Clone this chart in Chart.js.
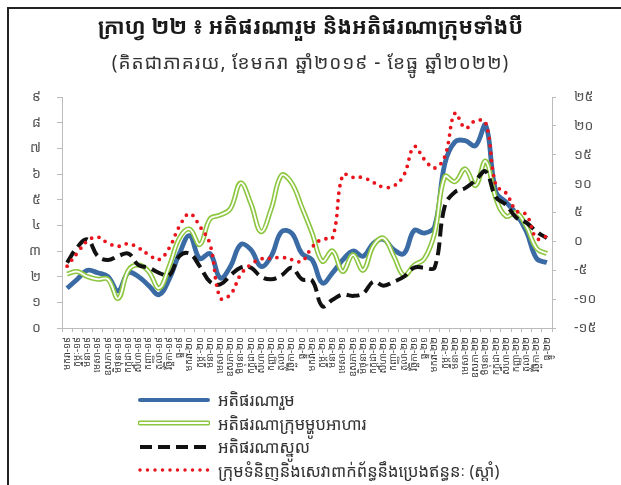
<!DOCTYPE html>
<html><head><meta charset="utf-8">
<script src="https://cdn.jsdelivr.net/npm/chart.js@4.4.1/dist/chart.umd.min.js"></script>
<style>
html,body{margin:0;padding:0;background:#fff;width:621px;height:485px;overflow:hidden;font-family:"Noto Sans Khmer","Khmer OS","Noto Sans",sans-serif}
#frame{position:absolute;left:7px;top:7px;width:700px;height:600px;border-left:2px solid #222;border-top:2px solid #222}
#wrap{position:absolute;left:0;top:0;width:621px;height:485px}
#title{position:absolute;left:0;width:621px;top:11px;text-align:center;font-size:21.5px;font-weight:bold;color:#1a1a1a;white-space:nowrap}
#sub{position:absolute;left:0;width:621px;top:49px;text-align:center;font-size:19px;color:#333;white-space:nowrap;letter-spacing:1px}
#legend{position:absolute;left:138px;top:388px}
.row{display:flex;align-items:center;height:23.5px}
.row svg{width:72px;height:10px;margin-right:8px;flex:none}
.row span{font-size:16.5px;color:#333;white-space:nowrap}
</style></head>
<body>
<div id="frame"></div>
<div id="wrap"><canvas id="c" width="621" height="485"></canvas></div>
<div id="title">ក្រាហ្វ ២២ ៖ អតិផរណារួម និងអតិផរណាក្រុមទាំងបី</div>
<div id="sub">(គិតជាភាគរយ, ខែមករា ឆ្នាំ២០១៩ - ខែធ្នូ ឆ្នាំ២០២២)</div>
<div id="legend">
 <div class="row"><svg viewBox="0 0 72 10"><line x1="2" y1="5" x2="70" y2="5" stroke="#3b6ba5" stroke-width="4" stroke-linecap="round"/></svg><span>អតិផរណារួម</span></div>
 <div class="row"><svg viewBox="0 0 72 10"><line x1="2" y1="5" x2="70" y2="5" stroke="#8cc63f" stroke-width="5" stroke-linecap="round"/><line x1="2" y1="5" x2="70" y2="5" stroke="#fff" stroke-width="1.8" stroke-linecap="round"/></svg><span>អតិផរណាក្រុមម្ហូបអាហារ</span></div>
 <div class="row"><svg viewBox="0 0 72 10"><line x1="2" y1="5" x2="70" y2="5" stroke="#111" stroke-width="4" stroke-dasharray="12,6"/></svg><span>អតិផរណាស្នូល</span></div>
 <div class="row"><svg viewBox="0 0 72 10"><line x1="2" y1="5" x2="70" y2="5" stroke="#e8141c" stroke-width="3.5" stroke-dasharray="0,7.5" stroke-linecap="round"/></svg><span>ក្រុមទំនិញនិងសេវាពាក់ព័ន្ធនឹងប្រេងឥន្ធនៈ (ស្តាំ)</span></div>
</div>
<script>
const months = ['មករា','កុម្ភៈ','មីនា','មេសា','ឧសភា','មិថុនា','កក្កដា','សីហា','កញ្ញា','តុលា','វិច្ឆិកា','ធ្នូ'];
const years = ['១៩','២០','២១','២២'];
const leftTickLabels = ['០','១','២','៣','៤','៥','៦','៧','៨','៩'];
const rightTickValues = [-15,-10,-5,0,5,10,15,20,25];
const rightTickLabels = ['-១៥','-១០','-៥','០','៥','១០','១៥','២០','២៥'];

const headline = [1.55,1.9,2.25,2.15,2.0,1.45,2.15,2.0,1.65,1.3,1.9,2.9,
                  3.6,2.7,2.9,1.95,2.4,3.25,3.05,2.4,2.8,3.75,3.7,2.9,
                  2.65,1.75,2.15,2.65,3.0,2.8,3.3,3.45,3.05,2.9,3.8,3.7,
                  3.95,6.4,7.25,7.3,7.1,7.9,5.3,4.9,4.45,3.75,2.7,2.55];
const food = [2.1,2.2,2.0,1.9,1.9,1.15,2.25,2.45,2.2,1.55,2.4,3.5,
              3.85,3.25,4.25,4.4,4.65,5.65,4.85,3.75,4.65,5.95,5.65,4.7,
              3.7,2.6,3.0,2.2,2.85,2.25,3.2,3.5,2.8,2.05,2.45,2.7,
              3.7,5.9,5.7,6.2,5.55,6.5,5.05,4.35,4.5,3.95,3.1,2.9];
const core = [2.55,3.15,3.45,2.8,2.65,2.8,2.9,2.45,2.35,2.15,2.05,2.8,
              2.9,2.4,1.8,1.7,2.05,2.35,2.35,2.0,1.9,2.05,2.35,1.9,
              1.85,0.85,1.1,1.3,1.25,1.35,1.8,1.65,1.8,2.0,2.35,2.35,
              2.35,4.75,5.3,5.45,5.75,6.1,5.1,4.8,4.3,4.1,3.75,3.5];
const fuel = [-4.3,-2.0,0.1,0.75,-0.3,-0.85,-0.4,-1.15,-2.3,-3.15,-1.15,2.6,
              4.8,2.6,-0.5,-9.8,-9.2,-5.75,-4.0,-3.05,-2.95,-2.75,-3.15,-3.45,
              -1.0,0.4,0.6,11.5,11.1,11.05,10.2,9.4,9.6,11.5,16.4,14.2,
              12.7,14.7,22.2,19.6,20.9,20.55,9.8,8.35,5.3,4.6,0.5,0.9];

const categories = [];
years.forEach(y => months.forEach(m => categories.push(m + '-' + y)));

const KH = '"Noto Sans Khmer","Khmer OS","Noto Sans",sans-serif';
const base = {pointRadius:0, pointHoverRadius:0, fill:false, tension:0.4};

new Chart(document.getElementById('c'), {
  type:'line',
  data:{
    labels:categories,
    datasets:[
      Object.assign({label:'អតិផរណារួម', data:headline, yAxisID:'y', borderColor:'#3b6ba5', borderWidth:4.8, order:5}, base),
      Object.assign({label:'អតិផរណាក្រុមម្ហូបអាហារ', data:food, yAxisID:'y', borderColor:'#8cc63f', borderWidth:5, order:4}, base),
      Object.assign({label:'', data:food, yAxisID:'y', borderColor:'#ffffff', borderWidth:1.8, order:3}, base),
      Object.assign({label:'អតិផរណាស្នូល', data:core, yAxisID:'y', borderColor:'#111111', borderWidth:4, borderDash:[13,6], order:2}, base),
      Object.assign({label:'ក្រុមទំនិញនិងសេវាពាក់ព័ន្ធនឹងប្រេងឥន្ធនៈ (ស្តាំ)', data:fuel, yAxisID:'y2', borderColor:'#e8141c', borderWidth:3.8, borderDash:[0,7.5], borderCapStyle:'round', order:1}, base)
    ]
  },
  options:{
    responsive:false, animation:false, devicePixelRatio:1,
    layout:{padding:{left:12,right:14,top:97,bottom:87}},
    plugins:{legend:{display:false}, tooltip:{enabled:false}, title:{display:false}},
    scales:{
      x:{
        type:'category', offset:true,
        grid:{display:true, drawOnChartArea:false, drawTicks:true, tickLength:4, color:'#bbbbbb', offset:true},
        border:{color:'#bbbbbb'},
        ticks:{autoSkip:false, minRotation:90, maxRotation:90, padding:5, color:'#333', font:{family:KH, size:9.5}},
        afterFit:s=>{s.height=70;}
      },
      y:{
        position:'left', min:0, max:9,
        grid:{drawOnChartArea:false, tickLength:5, color:'#bbbbbb'},
        border:{color:'#bbbbbb'},
        ticks:{stepSize:1, padding:16, color:'#555', font:{family:KH, size:14}, callback:(v)=>leftTickLabels[v]},
        afterFit:s=>{s.width=50;}
      },
      y2:{
        position:'right', min:-15, max:25,
        grid:{drawOnChartArea:false, tickLength:4, color:'#bbbbbb'},
        border:{color:'#bbbbbb'},
        ticks:{stepSize:5, padding:18, color:'#555', font:{family:KH, size:14}, callback:(v)=>rightTickLabels[rightTickValues.indexOf(v)]},
        afterFit:s=>{s.width=55;}
      }
    }
  }
});
</script>
</body></html>
